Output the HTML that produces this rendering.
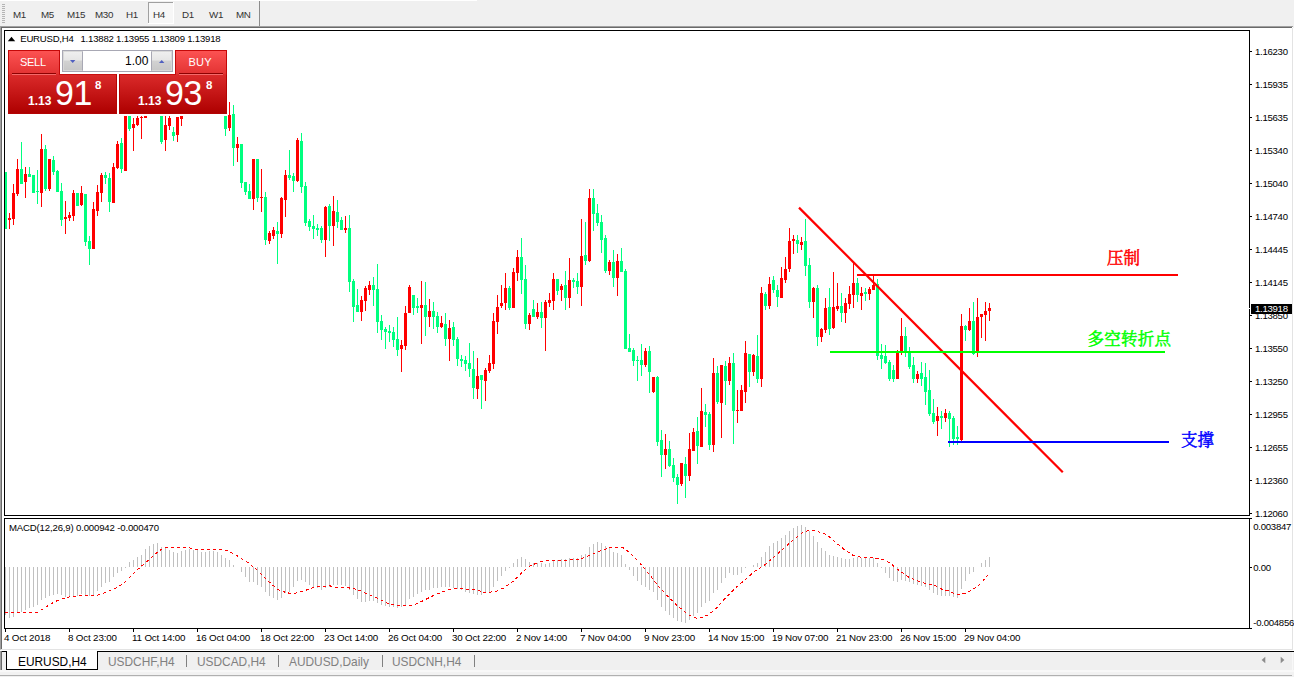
<!DOCTYPE html>
<html><head><meta charset="utf-8"><title>EURUSD,H4</title>
<style>
html,body{margin:0;padding:0}
body{width:1294px;height:677px;overflow:hidden;background:#f0f0f0;position:relative;font-family:"Liberation Sans",sans-serif;}
.abs{position:absolute}
#topwhite{left:0;top:0;width:477px;height:1px;background:#fff}
#tb{left:0;top:1px;width:1294px;height:25px;background:#f0f0f0}
.tf{position:absolute;top:8.8px;font-size:9.8px;line-height:11px;color:#333;white-space:nowrap;letter-spacing:-0.35px}
#win{left:0;top:26px;width:1293px;height:624px;background:#fff;box-sizing:border-box;border-top:1px solid #a0a0a0;border-left:1px solid #a0a0a0;border-bottom:1px solid #e3e3e3}
#winr{left:1292px;top:28px;width:2px;height:622px;background:linear-gradient(90deg,#e3e3e3 50%,#fff 50%)}
#win2{left:1px;top:27px;width:1291px;height:622px;box-sizing:border-box;border-top:1px solid #696969;border-left:1px solid #696969;}
svg text.ax{font-family:"Liberation Sans",sans-serif;font-size:9.6px;letter-spacing:-0.28px;fill:#000}
svg text.tx{font-family:"Liberation Sans",sans-serif;font-size:9.8px;letter-spacing:-0.17px;fill:#000}
.title{left:20.3px;top:32.8px;letter-spacing:-0.25px;font-size:9.6px;line-height:11px;color:#000;white-space:nowrap}
#macdt{left:9px;top:522.4px;font-size:9.6px;letter-spacing:-0.165px;line-height:11px;color:#000;white-space:nowrap}
.cn{position:absolute;font-family:"Liberation Serif","Noto Serif CJK SC",serif;font-weight:400;font-size:16.5px;line-height:18px;white-space:nowrap}
/* trade panel */
.pn{position:absolute;color:#fff}
.big{position:absolute;font-size:35px;line-height:35px;color:#fff;transform-origin:0 0;transform:scaleX(0.97);letter-spacing:-0.5px}
.sm{position:absolute;font-size:12px;line-height:12px;font-weight:bold;color:#fff}
.sup{position:absolute;font-size:11.5px;line-height:12px;color:#fff;font-weight:bold}
.btxt{position:absolute;font-size:11px;line-height:12px;color:#fff;letter-spacing:-0.3px}
/* tabs */
#tabs{left:0;top:650px;width:1294px;height:27px;background:#f0f0f0}
.tab{position:absolute;top:655.5px;font-size:11.9px;line-height:13px;color:#808080;white-space:nowrap}
.sep{position:absolute;top:655px;width:1px;height:12px;background:#808080}
</style></head><body>
<div class="abs" id="topwhite"></div>
<div class="abs" id="tb"></div>
<!-- grip -->
<svg class="abs" style="left:0;top:0" width="300" height="28">
<g fill="#b4b4b4"><rect x="2" y="4" width="3" height="1"/><rect x="2" y="6" width="3" height="1"/><rect x="2" y="8" width="3" height="1"/><rect x="2" y="10" width="3" height="1"/><rect x="2" y="12" width="3" height="1"/><rect x="2" y="14" width="3" height="1"/><rect x="2" y="16" width="3" height="1"/><rect x="2" y="18" width="3" height="1"/><rect x="2" y="20" width="3" height="1"/><rect x="2" y="22" width="3" height="1"/></g>
<rect x="148" y="2" width="25" height="22" fill="#f7f7f7"/><rect x="148" y="2" width="25" height="1" fill="#a0a0a0"/><rect x="148" y="2" width="1" height="22" fill="#a0a0a0"/><rect x="173" y="2" width="1" height="22" fill="#fff"/><rect x="148" y="23" width="26" height="1" fill="#fff"/>
<rect x="259" y="1" width="1" height="25" fill="#8c8c8c"/>
</svg>
<span class="tf" style="left:13px">M1</span><span class="tf" style="left:41px">M5</span><span class="tf" style="left:67px">M15</span><span class="tf" style="left:95px">M30</span><span class="tf" style="left:126px">H1</span><span class="tf" style="left:153px">H4</span><span class="tf" style="left:182px">D1</span><span class="tf" style="left:209px">W1</span><span class="tf" style="left:236px">MN</span>
<div class="abs" id="win"></div><div class="abs" id="winr"></div><div class="abs" id="win2"></div>
<svg class="abs" style="left:0;top:0" width="1294" height="677" shape-rendering="crispEdges">
<!-- frames -->
<g id="candles">
<rect x="5" y="172" width="1" height="57" fill="#00ff7f"/>
<rect x="4" y="172" width="3" height="57" fill="#00ff7f"/>
<rect x="9" y="213" width="1" height="16" fill="#ff0000"/>
<rect x="8" y="218" width="3" height="2" fill="#ff0000"/>
<rect x="13" y="184" width="1" height="41" fill="#ff0000"/>
<rect x="12" y="193" width="3" height="26" fill="#ff0000"/>
<rect x="17" y="159" width="1" height="37" fill="#ff0000"/>
<rect x="16" y="169" width="3" height="25" fill="#ff0000"/>
<rect x="21" y="142" width="1" height="42" fill="#00ff7f"/>
<rect x="20" y="169" width="3" height="15" fill="#00ff7f"/>
<rect x="25" y="167" width="1" height="31" fill="#ff0000"/>
<rect x="24" y="174" width="3" height="8" fill="#ff0000"/>
<rect x="29" y="167" width="1" height="10" fill="#00ff7f"/>
<rect x="28" y="174" width="3" height="3" fill="#00ff7f"/>
<rect x="33" y="175" width="1" height="18" fill="#00ff7f"/>
<rect x="32" y="175" width="3" height="18" fill="#00ff7f"/>
<rect x="37" y="170" width="1" height="34" fill="#00ff7f"/>
<rect x="36" y="191" width="3" height="1" fill="#00ff7f"/>
<rect x="41" y="134" width="1" height="73" fill="#ff0000"/>
<rect x="40" y="149" width="3" height="44" fill="#ff0000"/>
<rect x="45" y="145" width="1" height="46" fill="#00ff7f"/>
<rect x="44" y="149" width="3" height="40" fill="#00ff7f"/>
<rect x="49" y="159" width="1" height="32" fill="#ff0000"/>
<rect x="48" y="159" width="3" height="30" fill="#ff0000"/>
<rect x="53" y="156" width="1" height="19" fill="#00ff7f"/>
<rect x="52" y="160" width="3" height="12" fill="#00ff7f"/>
<rect x="57" y="170" width="1" height="22" fill="#00ff7f"/>
<rect x="56" y="171" width="3" height="21" fill="#00ff7f"/>
<rect x="61" y="183" width="1" height="43" fill="#00ff7f"/>
<rect x="60" y="191" width="3" height="29" fill="#00ff7f"/>
<rect x="65" y="201" width="1" height="33" fill="#ff0000"/>
<rect x="64" y="217" width="3" height="2" fill="#ff0000"/>
<rect x="69" y="212" width="1" height="9" fill="#ff0000"/>
<rect x="68" y="215" width="3" height="3" fill="#ff0000"/>
<rect x="73" y="190" width="1" height="31" fill="#ff0000"/>
<rect x="72" y="193" width="3" height="23" fill="#ff0000"/>
<rect x="77" y="193" width="1" height="13" fill="#00ff7f"/>
<rect x="76" y="193" width="3" height="13" fill="#00ff7f"/>
<rect x="81" y="186" width="1" height="20" fill="#ff0000"/>
<rect x="80" y="193" width="3" height="12" fill="#ff0000"/>
<rect x="85" y="194" width="1" height="52" fill="#00ff7f"/>
<rect x="84" y="194" width="3" height="48" fill="#00ff7f"/>
<rect x="89" y="236" width="1" height="29" fill="#00ff7f"/>
<rect x="88" y="241" width="3" height="8" fill="#00ff7f"/>
<rect x="93" y="202" width="1" height="47" fill="#ff0000"/>
<rect x="92" y="209" width="3" height="40" fill="#ff0000"/>
<rect x="97" y="185" width="1" height="31" fill="#ff0000"/>
<rect x="96" y="192" width="3" height="19" fill="#ff0000"/>
<rect x="101" y="173" width="1" height="29" fill="#ff0000"/>
<rect x="100" y="175" width="3" height="18" fill="#ff0000"/>
<rect x="105" y="172" width="1" height="12" fill="#00ff7f"/>
<rect x="104" y="175" width="3" height="3" fill="#00ff7f"/>
<rect x="109" y="173" width="1" height="39" fill="#00ff7f"/>
<rect x="108" y="178" width="3" height="24" fill="#00ff7f"/>
<rect x="113" y="163" width="1" height="40" fill="#ff0000"/>
<rect x="112" y="167" width="3" height="36" fill="#ff0000"/>
<rect x="117" y="141" width="1" height="28" fill="#ff0000"/>
<rect x="116" y="144" width="3" height="24" fill="#ff0000"/>
<rect x="121" y="138" width="1" height="35" fill="#00ff7f"/>
<rect x="120" y="143" width="3" height="26" fill="#00ff7f"/>
<rect x="125" y="116" width="1" height="55" fill="#ff0000"/>
<rect x="124" y="116" width="3" height="55" fill="#ff0000"/>
<rect x="129" y="116" width="1" height="15" fill="#00ff7f"/>
<rect x="128" y="116" width="3" height="13" fill="#00ff7f"/>
<rect x="133" y="118" width="1" height="33" fill="#ff0000"/>
<rect x="132" y="124" width="3" height="4" fill="#ff0000"/>
<rect x="137" y="116" width="1" height="10" fill="#ff0000"/>
<rect x="136" y="118" width="3" height="7" fill="#ff0000"/>
<rect x="141" y="116" width="1" height="23" fill="#ff0000"/>
<rect x="140" y="117" width="3" height="1" fill="#ff0000"/>
<rect x="145" y="116" width="1" height="2" fill="#ff0000"/>
<rect x="144" y="116" width="3" height="2" fill="#ff0000"/>
<rect x="161" y="116" width="1" height="28" fill="#00ff7f"/>
<rect x="160" y="116" width="3" height="26" fill="#00ff7f"/>
<rect x="165" y="116" width="1" height="35" fill="#ff0000"/>
<rect x="164" y="125" width="3" height="15" fill="#ff0000"/>
<rect x="169" y="116" width="1" height="14" fill="#ff0000"/>
<rect x="168" y="118" width="3" height="8" fill="#ff0000"/>
<rect x="173" y="127" width="1" height="14" fill="#00ff7f"/>
<rect x="172" y="132" width="3" height="4" fill="#00ff7f"/>
<rect x="177" y="117" width="1" height="25" fill="#ff0000"/>
<rect x="176" y="117" width="3" height="18" fill="#ff0000"/>
<rect x="181" y="116" width="1" height="10" fill="#ff0000"/>
<rect x="180" y="116" width="3" height="3" fill="#ff0000"/>
<rect x="225" y="116" width="1" height="20" fill="#00ff7f"/>
<rect x="224" y="116" width="3" height="13" fill="#00ff7f"/>
<rect x="229" y="102" width="1" height="29" fill="#ff0000"/>
<rect x="228" y="115" width="3" height="13" fill="#ff0000"/>
<rect x="233" y="105" width="1" height="61" fill="#00ff7f"/>
<rect x="232" y="114" width="3" height="34" fill="#00ff7f"/>
<rect x="237" y="137" width="1" height="25" fill="#ff0000"/>
<rect x="236" y="144" width="3" height="4" fill="#ff0000"/>
<rect x="241" y="144" width="1" height="44" fill="#00ff7f"/>
<rect x="240" y="144" width="3" height="39" fill="#00ff7f"/>
<rect x="245" y="182" width="1" height="13" fill="#00ff7f"/>
<rect x="244" y="182" width="3" height="10" fill="#00ff7f"/>
<rect x="249" y="184" width="1" height="15" fill="#00ff7f"/>
<rect x="248" y="191" width="3" height="8" fill="#00ff7f"/>
<rect x="253" y="159" width="1" height="51" fill="#ff0000"/>
<rect x="252" y="159" width="3" height="40" fill="#ff0000"/>
<rect x="257" y="159" width="1" height="43" fill="#00ff7f"/>
<rect x="256" y="159" width="3" height="39" fill="#00ff7f"/>
<rect x="261" y="169" width="1" height="43" fill="#ff0000"/>
<rect x="260" y="197" width="3" height="1" fill="#ff0000"/>
<rect x="265" y="192" width="1" height="53" fill="#00ff7f"/>
<rect x="264" y="197" width="3" height="43" fill="#00ff7f"/>
<rect x="269" y="231" width="1" height="13" fill="#ff0000"/>
<rect x="268" y="233" width="3" height="8" fill="#ff0000"/>
<rect x="273" y="227" width="1" height="12" fill="#ff0000"/>
<rect x="272" y="230" width="3" height="6" fill="#ff0000"/>
<rect x="277" y="222" width="1" height="42" fill="#00ff7f"/>
<rect x="276" y="231" width="3" height="3" fill="#00ff7f"/>
<rect x="281" y="197" width="1" height="41" fill="#ff0000"/>
<rect x="280" y="198" width="3" height="36" fill="#ff0000"/>
<rect x="285" y="170" width="1" height="47" fill="#ff0000"/>
<rect x="284" y="175" width="3" height="25" fill="#ff0000"/>
<rect x="289" y="150" width="1" height="30" fill="#00ff7f"/>
<rect x="288" y="175" width="3" height="3" fill="#00ff7f"/>
<rect x="293" y="173" width="1" height="19" fill="#00ff7f"/>
<rect x="292" y="176" width="3" height="5" fill="#00ff7f"/>
<rect x="297" y="138" width="1" height="44" fill="#ff0000"/>
<rect x="296" y="140" width="3" height="41" fill="#ff0000"/>
<rect x="301" y="133" width="1" height="60" fill="#00ff7f"/>
<rect x="300" y="141" width="3" height="46" fill="#00ff7f"/>
<rect x="305" y="182" width="1" height="44" fill="#00ff7f"/>
<rect x="304" y="186" width="3" height="37" fill="#00ff7f"/>
<rect x="309" y="219" width="1" height="12" fill="#00ff7f"/>
<rect x="308" y="221" width="3" height="6" fill="#00ff7f"/>
<rect x="313" y="215" width="1" height="24" fill="#00ff7f"/>
<rect x="312" y="226" width="3" height="3" fill="#00ff7f"/>
<rect x="317" y="224" width="1" height="12" fill="#00ff7f"/>
<rect x="316" y="228" width="3" height="2" fill="#00ff7f"/>
<rect x="321" y="226" width="1" height="17" fill="#00ff7f"/>
<rect x="320" y="228" width="3" height="12" fill="#00ff7f"/>
<rect x="325" y="206" width="1" height="51" fill="#ff0000"/>
<rect x="324" y="207" width="3" height="33" fill="#ff0000"/>
<rect x="329" y="204" width="1" height="37" fill="#00ff7f"/>
<rect x="328" y="206" width="3" height="20" fill="#00ff7f"/>
<rect x="333" y="196" width="1" height="50" fill="#ff0000"/>
<rect x="332" y="211" width="3" height="15" fill="#ff0000"/>
<rect x="337" y="200" width="1" height="28" fill="#00ff7f"/>
<rect x="336" y="212" width="3" height="10" fill="#00ff7f"/>
<rect x="341" y="217" width="1" height="13" fill="#00ff7f"/>
<rect x="340" y="220" width="3" height="10" fill="#00ff7f"/>
<rect x="345" y="216" width="1" height="17" fill="#ff0000"/>
<rect x="344" y="228" width="3" height="2" fill="#ff0000"/>
<rect x="349" y="215" width="1" height="77" fill="#00ff7f"/>
<rect x="348" y="228" width="3" height="54" fill="#00ff7f"/>
<rect x="353" y="279" width="1" height="43" fill="#00ff7f"/>
<rect x="352" y="281" width="3" height="26" fill="#00ff7f"/>
<rect x="357" y="289" width="1" height="23" fill="#00ff7f"/>
<rect x="356" y="305" width="3" height="7" fill="#00ff7f"/>
<rect x="361" y="296" width="1" height="25" fill="#ff0000"/>
<rect x="360" y="300" width="3" height="12" fill="#ff0000"/>
<rect x="365" y="286" width="1" height="25" fill="#ff0000"/>
<rect x="364" y="288" width="3" height="13" fill="#ff0000"/>
<rect x="369" y="281" width="1" height="14" fill="#ff0000"/>
<rect x="368" y="285" width="3" height="5" fill="#ff0000"/>
<rect x="373" y="277" width="1" height="29" fill="#00ff7f"/>
<rect x="372" y="285" width="3" height="5" fill="#00ff7f"/>
<rect x="377" y="264" width="1" height="69" fill="#00ff7f"/>
<rect x="376" y="289" width="3" height="33" fill="#00ff7f"/>
<rect x="381" y="315" width="1" height="25" fill="#00ff7f"/>
<rect x="380" y="321" width="3" height="9" fill="#00ff7f"/>
<rect x="385" y="327" width="1" height="22" fill="#00ff7f"/>
<rect x="384" y="329" width="3" height="3" fill="#00ff7f"/>
<rect x="389" y="325" width="1" height="17" fill="#00ff7f"/>
<rect x="388" y="331" width="3" height="2" fill="#00ff7f"/>
<rect x="393" y="327" width="1" height="20" fill="#00ff7f"/>
<rect x="392" y="332" width="3" height="8" fill="#00ff7f"/>
<rect x="397" y="317" width="1" height="39" fill="#00ff7f"/>
<rect x="396" y="339" width="3" height="11" fill="#00ff7f"/>
<rect x="401" y="340" width="1" height="32" fill="#ff0000"/>
<rect x="400" y="345" width="3" height="4" fill="#ff0000"/>
<rect x="405" y="306" width="1" height="44" fill="#ff0000"/>
<rect x="404" y="313" width="3" height="33" fill="#ff0000"/>
<rect x="409" y="285" width="1" height="28" fill="#ff0000"/>
<rect x="408" y="287" width="3" height="26" fill="#ff0000"/>
<rect x="413" y="295" width="1" height="20" fill="#00ff7f"/>
<rect x="412" y="295" width="3" height="13" fill="#00ff7f"/>
<rect x="417" y="298" width="1" height="15" fill="#00ff7f"/>
<rect x="416" y="306" width="3" height="2" fill="#00ff7f"/>
<rect x="421" y="281" width="1" height="63" fill="#ff0000"/>
<rect x="420" y="305" width="3" height="3" fill="#ff0000"/>
<rect x="425" y="282" width="1" height="54" fill="#00ff7f"/>
<rect x="424" y="305" width="3" height="12" fill="#00ff7f"/>
<rect x="429" y="299" width="1" height="28" fill="#ff0000"/>
<rect x="428" y="311" width="3" height="6" fill="#ff0000"/>
<rect x="433" y="302" width="1" height="27" fill="#00ff7f"/>
<rect x="432" y="311" width="3" height="6" fill="#00ff7f"/>
<rect x="437" y="312" width="1" height="21" fill="#00ff7f"/>
<rect x="436" y="316" width="3" height="11" fill="#00ff7f"/>
<rect x="441" y="316" width="1" height="12" fill="#ff0000"/>
<rect x="440" y="323" width="3" height="4" fill="#ff0000"/>
<rect x="445" y="313" width="1" height="33" fill="#00ff7f"/>
<rect x="444" y="324" width="3" height="15" fill="#00ff7f"/>
<rect x="449" y="320" width="1" height="41" fill="#ff0000"/>
<rect x="448" y="328" width="3" height="11" fill="#ff0000"/>
<rect x="453" y="322" width="1" height="24" fill="#00ff7f"/>
<rect x="452" y="327" width="3" height="13" fill="#00ff7f"/>
<rect x="457" y="337" width="1" height="29" fill="#00ff7f"/>
<rect x="456" y="339" width="3" height="20" fill="#00ff7f"/>
<rect x="461" y="355" width="1" height="12" fill="#00ff7f"/>
<rect x="460" y="359" width="3" height="2" fill="#00ff7f"/>
<rect x="465" y="356" width="1" height="15" fill="#00ff7f"/>
<rect x="464" y="360" width="3" height="4" fill="#00ff7f"/>
<rect x="469" y="343" width="1" height="34" fill="#00ff7f"/>
<rect x="468" y="363" width="3" height="6" fill="#00ff7f"/>
<rect x="473" y="351" width="1" height="48" fill="#00ff7f"/>
<rect x="472" y="369" width="3" height="19" fill="#00ff7f"/>
<rect x="477" y="358" width="1" height="41" fill="#ff0000"/>
<rect x="476" y="376" width="3" height="13" fill="#ff0000"/>
<rect x="481" y="375" width="1" height="34" fill="#00ff7f"/>
<rect x="480" y="375" width="3" height="5" fill="#00ff7f"/>
<rect x="485" y="368" width="1" height="33" fill="#ff0000"/>
<rect x="484" y="370" width="3" height="11" fill="#ff0000"/>
<rect x="489" y="355" width="1" height="18" fill="#ff0000"/>
<rect x="488" y="363" width="3" height="8" fill="#ff0000"/>
<rect x="493" y="313" width="1" height="56" fill="#ff0000"/>
<rect x="492" y="321" width="3" height="43" fill="#ff0000"/>
<rect x="497" y="295" width="1" height="39" fill="#ff0000"/>
<rect x="496" y="307" width="3" height="15" fill="#ff0000"/>
<rect x="501" y="285" width="1" height="23" fill="#ff0000"/>
<rect x="500" y="303" width="3" height="3" fill="#ff0000"/>
<rect x="505" y="273" width="1" height="37" fill="#ff0000"/>
<rect x="504" y="288" width="3" height="15" fill="#ff0000"/>
<rect x="509" y="286" width="1" height="24" fill="#00ff7f"/>
<rect x="508" y="288" width="3" height="20" fill="#00ff7f"/>
<rect x="513" y="268" width="1" height="40" fill="#ff0000"/>
<rect x="512" y="272" width="3" height="36" fill="#ff0000"/>
<rect x="517" y="250" width="1" height="31" fill="#ff0000"/>
<rect x="516" y="257" width="3" height="16" fill="#ff0000"/>
<rect x="521" y="238" width="1" height="56" fill="#00ff7f"/>
<rect x="520" y="257" width="3" height="23" fill="#00ff7f"/>
<rect x="525" y="265" width="1" height="64" fill="#00ff7f"/>
<rect x="524" y="279" width="3" height="45" fill="#00ff7f"/>
<rect x="529" y="313" width="1" height="17" fill="#ff0000"/>
<rect x="528" y="315" width="3" height="9" fill="#ff0000"/>
<rect x="533" y="300" width="1" height="17" fill="#00ff7f"/>
<rect x="532" y="309" width="3" height="8" fill="#00ff7f"/>
<rect x="537" y="303" width="1" height="16" fill="#ff0000"/>
<rect x="536" y="312" width="3" height="5" fill="#ff0000"/>
<rect x="541" y="302" width="1" height="26" fill="#00ff7f"/>
<rect x="540" y="312" width="3" height="6" fill="#00ff7f"/>
<rect x="545" y="300" width="1" height="51" fill="#ff0000"/>
<rect x="544" y="302" width="3" height="16" fill="#ff0000"/>
<rect x="549" y="293" width="1" height="14" fill="#ff0000"/>
<rect x="548" y="300" width="3" height="3" fill="#ff0000"/>
<rect x="553" y="273" width="1" height="37" fill="#ff0000"/>
<rect x="552" y="279" width="3" height="22" fill="#ff0000"/>
<rect x="557" y="279" width="1" height="16" fill="#00ff7f"/>
<rect x="556" y="279" width="3" height="12" fill="#00ff7f"/>
<rect x="561" y="284" width="1" height="17" fill="#ff0000"/>
<rect x="560" y="286" width="3" height="4" fill="#ff0000"/>
<rect x="565" y="271" width="1" height="39" fill="#00ff7f"/>
<rect x="564" y="285" width="3" height="13" fill="#00ff7f"/>
<rect x="569" y="258" width="1" height="50" fill="#ff0000"/>
<rect x="568" y="280" width="3" height="18" fill="#ff0000"/>
<rect x="573" y="278" width="1" height="10" fill="#00ff7f"/>
<rect x="572" y="280" width="3" height="2" fill="#00ff7f"/>
<rect x="577" y="273" width="1" height="21" fill="#00ff7f"/>
<rect x="576" y="281" width="3" height="6" fill="#00ff7f"/>
<rect x="581" y="219" width="1" height="87" fill="#ff0000"/>
<rect x="580" y="256" width="3" height="31" fill="#ff0000"/>
<rect x="585" y="222" width="1" height="43" fill="#00ff7f"/>
<rect x="584" y="255" width="3" height="6" fill="#00ff7f"/>
<rect x="589" y="189" width="1" height="73" fill="#ff0000"/>
<rect x="588" y="198" width="3" height="63" fill="#ff0000"/>
<rect x="593" y="189" width="1" height="42" fill="#00ff7f"/>
<rect x="592" y="198" width="3" height="16" fill="#00ff7f"/>
<rect x="597" y="204" width="1" height="22" fill="#00ff7f"/>
<rect x="596" y="213" width="3" height="10" fill="#00ff7f"/>
<rect x="601" y="215" width="1" height="38" fill="#00ff7f"/>
<rect x="600" y="222" width="3" height="18" fill="#00ff7f"/>
<rect x="605" y="235" width="1" height="38" fill="#00ff7f"/>
<rect x="604" y="238" width="3" height="33" fill="#00ff7f"/>
<rect x="609" y="260" width="1" height="15" fill="#ff0000"/>
<rect x="608" y="262" width="3" height="9" fill="#ff0000"/>
<rect x="613" y="250" width="1" height="37" fill="#00ff7f"/>
<rect x="612" y="262" width="3" height="16" fill="#00ff7f"/>
<rect x="617" y="254" width="1" height="42" fill="#ff0000"/>
<rect x="616" y="261" width="3" height="17" fill="#ff0000"/>
<rect x="621" y="248" width="1" height="24" fill="#00ff7f"/>
<rect x="620" y="261" width="3" height="11" fill="#00ff7f"/>
<rect x="625" y="269" width="1" height="80" fill="#00ff7f"/>
<rect x="624" y="271" width="3" height="78" fill="#00ff7f"/>
<rect x="629" y="334" width="1" height="18" fill="#00ff7f"/>
<rect x="628" y="348" width="3" height="4" fill="#00ff7f"/>
<rect x="633" y="348" width="1" height="18" fill="#00ff7f"/>
<rect x="632" y="350" width="3" height="11" fill="#00ff7f"/>
<rect x="637" y="356" width="1" height="25" fill="#00ff7f"/>
<rect x="636" y="360" width="3" height="1" fill="#00ff7f"/>
<rect x="641" y="344" width="1" height="32" fill="#00ff7f"/>
<rect x="640" y="360" width="3" height="5" fill="#00ff7f"/>
<rect x="645" y="348" width="1" height="19" fill="#ff0000"/>
<rect x="644" y="351" width="3" height="14" fill="#ff0000"/>
<rect x="649" y="346" width="1" height="47" fill="#00ff7f"/>
<rect x="648" y="351" width="3" height="21" fill="#00ff7f"/>
<rect x="653" y="377" width="1" height="16" fill="#ff0000"/>
<rect x="652" y="377" width="3" height="15" fill="#ff0000"/>
<rect x="657" y="376" width="1" height="70" fill="#00ff7f"/>
<rect x="656" y="377" width="3" height="65" fill="#00ff7f"/>
<rect x="661" y="430" width="1" height="47" fill="#00ff7f"/>
<rect x="660" y="440" width="3" height="15" fill="#00ff7f"/>
<rect x="665" y="434" width="1" height="35" fill="#ff0000"/>
<rect x="664" y="449" width="3" height="6" fill="#ff0000"/>
<rect x="669" y="441" width="1" height="26" fill="#00ff7f"/>
<rect x="668" y="449" width="3" height="17" fill="#00ff7f"/>
<rect x="673" y="458" width="1" height="24" fill="#00ff7f"/>
<rect x="672" y="465" width="3" height="13" fill="#00ff7f"/>
<rect x="677" y="474" width="1" height="30" fill="#00ff7f"/>
<rect x="676" y="477" width="3" height="8" fill="#00ff7f"/>
<rect x="681" y="463" width="1" height="23" fill="#ff0000"/>
<rect x="680" y="463" width="3" height="21" fill="#ff0000"/>
<rect x="685" y="457" width="1" height="41" fill="#00ff7f"/>
<rect x="684" y="464" width="3" height="12" fill="#00ff7f"/>
<rect x="689" y="433" width="1" height="48" fill="#ff0000"/>
<rect x="688" y="449" width="3" height="27" fill="#ff0000"/>
<rect x="693" y="428" width="1" height="23" fill="#ff0000"/>
<rect x="692" y="432" width="3" height="19" fill="#ff0000"/>
<rect x="697" y="417" width="1" height="47" fill="#00ff7f"/>
<rect x="696" y="431" width="3" height="15" fill="#00ff7f"/>
<rect x="701" y="388" width="1" height="59" fill="#ff0000"/>
<rect x="700" y="411" width="3" height="36" fill="#ff0000"/>
<rect x="705" y="404" width="1" height="23" fill="#00ff7f"/>
<rect x="704" y="412" width="3" height="3" fill="#00ff7f"/>
<rect x="709" y="412" width="1" height="38" fill="#00ff7f"/>
<rect x="708" y="414" width="3" height="31" fill="#00ff7f"/>
<rect x="713" y="358" width="1" height="94" fill="#ff0000"/>
<rect x="712" y="373" width="3" height="72" fill="#ff0000"/>
<rect x="717" y="366" width="1" height="38" fill="#00ff7f"/>
<rect x="716" y="373" width="3" height="29" fill="#00ff7f"/>
<rect x="721" y="365" width="1" height="73" fill="#ff0000"/>
<rect x="720" y="365" width="3" height="38" fill="#ff0000"/>
<rect x="725" y="361" width="1" height="44" fill="#00ff7f"/>
<rect x="724" y="366" width="3" height="15" fill="#00ff7f"/>
<rect x="729" y="357" width="1" height="28" fill="#ff0000"/>
<rect x="728" y="363" width="3" height="18" fill="#ff0000"/>
<rect x="733" y="353" width="1" height="91" fill="#00ff7f"/>
<rect x="732" y="363" width="3" height="48" fill="#00ff7f"/>
<rect x="737" y="390" width="1" height="33" fill="#ff0000"/>
<rect x="736" y="410" width="3" height="1" fill="#ff0000"/>
<rect x="741" y="385" width="1" height="26" fill="#ff0000"/>
<rect x="740" y="390" width="3" height="21" fill="#ff0000"/>
<rect x="745" y="341" width="1" height="62" fill="#ff0000"/>
<rect x="744" y="353" width="3" height="39" fill="#ff0000"/>
<rect x="749" y="354" width="1" height="33" fill="#00ff7f"/>
<rect x="748" y="354" width="3" height="18" fill="#00ff7f"/>
<rect x="753" y="354" width="1" height="22" fill="#ff0000"/>
<rect x="752" y="355" width="3" height="17" fill="#ff0000"/>
<rect x="757" y="335" width="1" height="48" fill="#00ff7f"/>
<rect x="756" y="356" width="3" height="23" fill="#00ff7f"/>
<rect x="761" y="287" width="1" height="100" fill="#ff0000"/>
<rect x="760" y="293" width="3" height="86" fill="#ff0000"/>
<rect x="765" y="292" width="1" height="18" fill="#00ff7f"/>
<rect x="764" y="294" width="3" height="12" fill="#00ff7f"/>
<rect x="769" y="277" width="1" height="32" fill="#ff0000"/>
<rect x="768" y="284" width="3" height="22" fill="#ff0000"/>
<rect x="773" y="276" width="1" height="17" fill="#00ff7f"/>
<rect x="772" y="280" width="3" height="10" fill="#00ff7f"/>
<rect x="777" y="285" width="1" height="22" fill="#00ff7f"/>
<rect x="776" y="290" width="3" height="7" fill="#00ff7f"/>
<rect x="781" y="267" width="1" height="31" fill="#ff0000"/>
<rect x="780" y="278" width="3" height="20" fill="#ff0000"/>
<rect x="785" y="257" width="1" height="26" fill="#ff0000"/>
<rect x="784" y="269" width="3" height="11" fill="#ff0000"/>
<rect x="789" y="228" width="1" height="44" fill="#ff0000"/>
<rect x="788" y="241" width="3" height="28" fill="#ff0000"/>
<rect x="793" y="235" width="1" height="19" fill="#ff0000"/>
<rect x="792" y="239" width="3" height="2" fill="#ff0000"/>
<rect x="797" y="235" width="1" height="18" fill="#00ff7f"/>
<rect x="796" y="240" width="3" height="4" fill="#00ff7f"/>
<rect x="801" y="237" width="1" height="13" fill="#ff0000"/>
<rect x="800" y="242" width="3" height="3" fill="#ff0000"/>
<rect x="805" y="219" width="1" height="57" fill="#00ff7f"/>
<rect x="804" y="241" width="3" height="25" fill="#00ff7f"/>
<rect x="809" y="258" width="1" height="50" fill="#00ff7f"/>
<rect x="808" y="265" width="3" height="37" fill="#00ff7f"/>
<rect x="813" y="287" width="1" height="31" fill="#ff0000"/>
<rect x="812" y="288" width="3" height="14" fill="#ff0000"/>
<rect x="817" y="285" width="1" height="61" fill="#00ff7f"/>
<rect x="816" y="288" width="3" height="49" fill="#00ff7f"/>
<rect x="821" y="328" width="1" height="14" fill="#ff0000"/>
<rect x="820" y="329" width="3" height="8" fill="#ff0000"/>
<rect x="825" y="298" width="1" height="35" fill="#ff0000"/>
<rect x="824" y="308" width="3" height="22" fill="#ff0000"/>
<rect x="829" y="288" width="1" height="47" fill="#00ff7f"/>
<rect x="828" y="307" width="3" height="22" fill="#00ff7f"/>
<rect x="833" y="272" width="1" height="57" fill="#ff0000"/>
<rect x="832" y="307" width="3" height="21" fill="#ff0000"/>
<rect x="837" y="283" width="1" height="28" fill="#ff0000"/>
<rect x="836" y="306" width="3" height="3" fill="#ff0000"/>
<rect x="841" y="293" width="1" height="29" fill="#00ff7f"/>
<rect x="840" y="306" width="3" height="7" fill="#00ff7f"/>
<rect x="845" y="298" width="1" height="25" fill="#ff0000"/>
<rect x="844" y="303" width="3" height="10" fill="#ff0000"/>
<rect x="849" y="286" width="1" height="23" fill="#ff0000"/>
<rect x="848" y="294" width="3" height="10" fill="#ff0000"/>
<rect x="853" y="263" width="1" height="45" fill="#ff0000"/>
<rect x="852" y="283" width="3" height="12" fill="#ff0000"/>
<rect x="857" y="278" width="1" height="24" fill="#00ff7f"/>
<rect x="856" y="283" width="3" height="12" fill="#00ff7f"/>
<rect x="861" y="287" width="1" height="23" fill="#ff0000"/>
<rect x="860" y="293" width="3" height="3" fill="#ff0000"/>
<rect x="865" y="288" width="1" height="13" fill="#00ff7f"/>
<rect x="864" y="292" width="3" height="2" fill="#00ff7f"/>
<rect x="869" y="287" width="1" height="13" fill="#ff0000"/>
<rect x="868" y="289" width="3" height="5" fill="#ff0000"/>
<rect x="873" y="276" width="1" height="14" fill="#ff0000"/>
<rect x="872" y="285" width="3" height="5" fill="#ff0000"/>
<rect x="877" y="279" width="1" height="81" fill="#00ff7f"/>
<rect x="876" y="284" width="3" height="72" fill="#00ff7f"/>
<rect x="881" y="344" width="1" height="25" fill="#00ff7f"/>
<rect x="880" y="355" width="3" height="4" fill="#00ff7f"/>
<rect x="885" y="345" width="1" height="19" fill="#00ff7f"/>
<rect x="884" y="356" width="3" height="7" fill="#00ff7f"/>
<rect x="889" y="360" width="1" height="21" fill="#00ff7f"/>
<rect x="888" y="362" width="3" height="17" fill="#00ff7f"/>
<rect x="893" y="365" width="1" height="17" fill="#00ff7f"/>
<rect x="892" y="370" width="3" height="9" fill="#00ff7f"/>
<rect x="897" y="350" width="1" height="29" fill="#ff0000"/>
<rect x="896" y="352" width="3" height="27" fill="#ff0000"/>
<rect x="901" y="318" width="1" height="37" fill="#ff0000"/>
<rect x="900" y="336" width="3" height="16" fill="#ff0000"/>
<rect x="905" y="327" width="1" height="30" fill="#00ff7f"/>
<rect x="904" y="336" width="3" height="17" fill="#00ff7f"/>
<rect x="909" y="347" width="1" height="22" fill="#00ff7f"/>
<rect x="908" y="353" width="3" height="14" fill="#00ff7f"/>
<rect x="913" y="357" width="1" height="26" fill="#00ff7f"/>
<rect x="912" y="365" width="3" height="14" fill="#00ff7f"/>
<rect x="917" y="371" width="1" height="12" fill="#ff0000"/>
<rect x="916" y="374" width="3" height="5" fill="#ff0000"/>
<rect x="921" y="362" width="1" height="24" fill="#00ff7f"/>
<rect x="920" y="373" width="3" height="6" fill="#00ff7f"/>
<rect x="925" y="363" width="1" height="42" fill="#00ff7f"/>
<rect x="924" y="377" width="3" height="15" fill="#00ff7f"/>
<rect x="929" y="370" width="1" height="46" fill="#00ff7f"/>
<rect x="928" y="390" width="3" height="24" fill="#00ff7f"/>
<rect x="933" y="399" width="1" height="25" fill="#00ff7f"/>
<rect x="932" y="413" width="3" height="9" fill="#00ff7f"/>
<rect x="937" y="407" width="1" height="29" fill="#ff0000"/>
<rect x="936" y="416" width="3" height="5" fill="#ff0000"/>
<rect x="941" y="411" width="1" height="18" fill="#00ff7f"/>
<rect x="940" y="416" width="3" height="2" fill="#00ff7f"/>
<rect x="945" y="409" width="1" height="13" fill="#ff0000"/>
<rect x="944" y="413" width="3" height="5" fill="#ff0000"/>
<rect x="949" y="411" width="1" height="36" fill="#00ff7f"/>
<rect x="948" y="413" width="3" height="6" fill="#00ff7f"/>
<rect x="953" y="416" width="1" height="29" fill="#00ff7f"/>
<rect x="952" y="418" width="3" height="21" fill="#00ff7f"/>
<rect x="957" y="426" width="1" height="19" fill="#00ff7f"/>
<rect x="956" y="437" width="3" height="2" fill="#00ff7f"/>
<rect x="961" y="314" width="1" height="127" fill="#ff0000"/>
<rect x="960" y="326" width="3" height="114" fill="#ff0000"/>
<rect x="965" y="325" width="1" height="16" fill="#00ff7f"/>
<rect x="964" y="326" width="3" height="4" fill="#00ff7f"/>
<rect x="969" y="308" width="1" height="23" fill="#ff0000"/>
<rect x="968" y="321" width="3" height="9" fill="#ff0000"/>
<rect x="973" y="302" width="1" height="53" fill="#00ff7f"/>
<rect x="972" y="321" width="3" height="33" fill="#00ff7f"/>
<rect x="977" y="298" width="1" height="59" fill="#ff0000"/>
<rect x="976" y="317" width="3" height="36" fill="#ff0000"/>
<rect x="981" y="314" width="1" height="24" fill="#ff0000"/>
<rect x="980" y="314" width="3" height="3" fill="#ff0000"/>
<rect x="985" y="302" width="1" height="39" fill="#ff0000"/>
<rect x="984" y="311" width="3" height="4" fill="#ff0000"/>
<rect x="989" y="303" width="1" height="18" fill="#ff0000"/>
<rect x="988" y="308" width="3" height="3" fill="#ff0000"/>
</g>
<g id="macd">
<rect x="5" y="567" width="1" height="48" fill="#c0c0c0"/>
<rect x="9" y="567" width="1" height="51" fill="#c0c0c0"/>
<rect x="13" y="567" width="1" height="50" fill="#c0c0c0"/>
<rect x="17" y="567" width="1" height="46" fill="#c0c0c0"/>
<rect x="21" y="567" width="1" height="45" fill="#c0c0c0"/>
<rect x="25" y="567" width="1" height="43" fill="#c0c0c0"/>
<rect x="29" y="567" width="1" height="41" fill="#c0c0c0"/>
<rect x="33" y="567" width="1" height="40" fill="#c0c0c0"/>
<rect x="37" y="567" width="1" height="38" fill="#c0c0c0"/>
<rect x="41" y="567" width="1" height="33" fill="#c0c0c0"/>
<rect x="45" y="567" width="1" height="31" fill="#c0c0c0"/>
<rect x="49" y="567" width="1" height="29" fill="#c0c0c0"/>
<rect x="53" y="567" width="1" height="28" fill="#c0c0c0"/>
<rect x="57" y="567" width="1" height="27" fill="#c0c0c0"/>
<rect x="61" y="567" width="1" height="28" fill="#c0c0c0"/>
<rect x="65" y="567" width="1" height="30" fill="#c0c0c0"/>
<rect x="69" y="567" width="1" height="30" fill="#c0c0c0"/>
<rect x="73" y="567" width="1" height="30" fill="#c0c0c0"/>
<rect x="77" y="567" width="1" height="29" fill="#c0c0c0"/>
<rect x="81" y="567" width="1" height="27" fill="#c0c0c0"/>
<rect x="85" y="567" width="1" height="28" fill="#c0c0c0"/>
<rect x="89" y="567" width="1" height="29" fill="#c0c0c0"/>
<rect x="93" y="567" width="1" height="28" fill="#c0c0c0"/>
<rect x="97" y="567" width="1" height="24" fill="#c0c0c0"/>
<rect x="101" y="567" width="1" height="20" fill="#c0c0c0"/>
<rect x="105" y="567" width="1" height="16" fill="#c0c0c0"/>
<rect x="109" y="567" width="1" height="15" fill="#c0c0c0"/>
<rect x="113" y="567" width="1" height="10" fill="#c0c0c0"/>
<rect x="117" y="567" width="1" height="6" fill="#c0c0c0"/>
<rect x="121" y="567" width="1" height="4" fill="#c0c0c0"/>
<rect x="125" y="567" width="1" height="1" fill="#c0c0c0"/>
<rect x="129" y="562" width="1" height="5" fill="#c0c0c0"/>
<rect x="133" y="560" width="1" height="7" fill="#c0c0c0"/>
<rect x="137" y="557" width="1" height="10" fill="#c0c0c0"/>
<rect x="141" y="555" width="1" height="12" fill="#c0c0c0"/>
<rect x="145" y="549" width="1" height="18" fill="#c0c0c0"/>
<rect x="149" y="546" width="1" height="21" fill="#c0c0c0"/>
<rect x="153" y="544" width="1" height="23" fill="#c0c0c0"/>
<rect x="157" y="543" width="1" height="24" fill="#c0c0c0"/>
<rect x="161" y="547" width="1" height="20" fill="#c0c0c0"/>
<rect x="165" y="548" width="1" height="19" fill="#c0c0c0"/>
<rect x="169" y="550" width="1" height="17" fill="#c0c0c0"/>
<rect x="173" y="552" width="1" height="15" fill="#c0c0c0"/>
<rect x="177" y="553" width="1" height="14" fill="#c0c0c0"/>
<rect x="181" y="551" width="1" height="16" fill="#c0c0c0"/>
<rect x="185" y="550" width="1" height="17" fill="#c0c0c0"/>
<rect x="189" y="549" width="1" height="18" fill="#c0c0c0"/>
<rect x="193" y="550" width="1" height="17" fill="#c0c0c0"/>
<rect x="197" y="550" width="1" height="17" fill="#c0c0c0"/>
<rect x="201" y="552" width="1" height="15" fill="#c0c0c0"/>
<rect x="205" y="552" width="1" height="15" fill="#c0c0c0"/>
<rect x="209" y="551" width="1" height="16" fill="#c0c0c0"/>
<rect x="213" y="551" width="1" height="16" fill="#c0c0c0"/>
<rect x="217" y="552" width="1" height="15" fill="#c0c0c0"/>
<rect x="221" y="555" width="1" height="12" fill="#c0c0c0"/>
<rect x="225" y="558" width="1" height="9" fill="#c0c0c0"/>
<rect x="229" y="560" width="1" height="7" fill="#c0c0c0"/>
<rect x="233" y="565" width="1" height="2" fill="#c0c0c0"/>
<rect x="241" y="567" width="1" height="5" fill="#c0c0c0"/>
<rect x="245" y="567" width="1" height="10" fill="#c0c0c0"/>
<rect x="249" y="567" width="1" height="15" fill="#c0c0c0"/>
<rect x="253" y="567" width="1" height="15" fill="#c0c0c0"/>
<rect x="257" y="567" width="1" height="18" fill="#c0c0c0"/>
<rect x="261" y="567" width="1" height="20" fill="#c0c0c0"/>
<rect x="265" y="567" width="1" height="25" fill="#c0c0c0"/>
<rect x="269" y="567" width="1" height="29" fill="#c0c0c0"/>
<rect x="273" y="567" width="1" height="31" fill="#c0c0c0"/>
<rect x="277" y="567" width="1" height="33" fill="#c0c0c0"/>
<rect x="281" y="567" width="1" height="31" fill="#c0c0c0"/>
<rect x="285" y="567" width="1" height="26" fill="#c0c0c0"/>
<rect x="289" y="567" width="1" height="25" fill="#c0c0c0"/>
<rect x="293" y="567" width="1" height="20" fill="#c0c0c0"/>
<rect x="297" y="567" width="1" height="14" fill="#c0c0c0"/>
<rect x="301" y="567" width="1" height="13" fill="#c0c0c0"/>
<rect x="305" y="567" width="1" height="15" fill="#c0c0c0"/>
<rect x="309" y="567" width="1" height="18" fill="#c0c0c0"/>
<rect x="313" y="567" width="1" height="20" fill="#c0c0c0"/>
<rect x="317" y="567" width="1" height="21" fill="#c0c0c0"/>
<rect x="321" y="567" width="1" height="23" fill="#c0c0c0"/>
<rect x="325" y="567" width="1" height="21" fill="#c0c0c0"/>
<rect x="329" y="567" width="1" height="20" fill="#c0c0c0"/>
<rect x="333" y="567" width="1" height="18" fill="#c0c0c0"/>
<rect x="337" y="567" width="1" height="18" fill="#c0c0c0"/>
<rect x="341" y="567" width="1" height="18" fill="#c0c0c0"/>
<rect x="345" y="567" width="1" height="19" fill="#c0c0c0"/>
<rect x="349" y="567" width="1" height="23" fill="#c0c0c0"/>
<rect x="353" y="567" width="1" height="28" fill="#c0c0c0"/>
<rect x="357" y="567" width="1" height="32" fill="#c0c0c0"/>
<rect x="361" y="567" width="1" height="35" fill="#c0c0c0"/>
<rect x="365" y="567" width="1" height="35" fill="#c0c0c0"/>
<rect x="369" y="567" width="1" height="34" fill="#c0c0c0"/>
<rect x="373" y="567" width="1" height="34" fill="#c0c0c0"/>
<rect x="377" y="567" width="1" height="36" fill="#c0c0c0"/>
<rect x="381" y="567" width="1" height="38" fill="#c0c0c0"/>
<rect x="385" y="567" width="1" height="39" fill="#c0c0c0"/>
<rect x="389" y="567" width="1" height="40" fill="#c0c0c0"/>
<rect x="393" y="567" width="1" height="40" fill="#c0c0c0"/>
<rect x="397" y="567" width="1" height="41" fill="#c0c0c0"/>
<rect x="401" y="567" width="1" height="40" fill="#c0c0c0"/>
<rect x="405" y="567" width="1" height="38" fill="#c0c0c0"/>
<rect x="409" y="567" width="1" height="32" fill="#c0c0c0"/>
<rect x="413" y="567" width="1" height="30" fill="#c0c0c0"/>
<rect x="417" y="567" width="1" height="27" fill="#c0c0c0"/>
<rect x="421" y="567" width="1" height="25" fill="#c0c0c0"/>
<rect x="425" y="567" width="1" height="23" fill="#c0c0c0"/>
<rect x="429" y="567" width="1" height="23" fill="#c0c0c0"/>
<rect x="433" y="567" width="1" height="21" fill="#c0c0c0"/>
<rect x="437" y="567" width="1" height="21" fill="#c0c0c0"/>
<rect x="441" y="567" width="1" height="20" fill="#c0c0c0"/>
<rect x="445" y="567" width="1" height="20" fill="#c0c0c0"/>
<rect x="449" y="567" width="1" height="20" fill="#c0c0c0"/>
<rect x="453" y="567" width="1" height="21" fill="#c0c0c0"/>
<rect x="457" y="567" width="1" height="22" fill="#c0c0c0"/>
<rect x="461" y="567" width="1" height="23" fill="#c0c0c0"/>
<rect x="465" y="567" width="1" height="25" fill="#c0c0c0"/>
<rect x="469" y="567" width="1" height="26" fill="#c0c0c0"/>
<rect x="473" y="567" width="1" height="27" fill="#c0c0c0"/>
<rect x="477" y="567" width="1" height="28" fill="#c0c0c0"/>
<rect x="481" y="567" width="1" height="28" fill="#c0c0c0"/>
<rect x="485" y="567" width="1" height="26" fill="#c0c0c0"/>
<rect x="489" y="567" width="1" height="25" fill="#c0c0c0"/>
<rect x="493" y="567" width="1" height="20" fill="#c0c0c0"/>
<rect x="497" y="567" width="1" height="14" fill="#c0c0c0"/>
<rect x="501" y="567" width="1" height="9" fill="#c0c0c0"/>
<rect x="505" y="567" width="1" height="4" fill="#c0c0c0"/>
<rect x="509" y="567" width="1" height="1" fill="#c0c0c0"/>
<rect x="513" y="563" width="1" height="4" fill="#c0c0c0"/>
<rect x="517" y="559" width="1" height="8" fill="#c0c0c0"/>
<rect x="521" y="557" width="1" height="10" fill="#c0c0c0"/>
<rect x="525" y="559" width="1" height="8" fill="#c0c0c0"/>
<rect x="529" y="562" width="1" height="5" fill="#c0c0c0"/>
<rect x="533" y="563" width="1" height="4" fill="#c0c0c0"/>
<rect x="537" y="563" width="1" height="4" fill="#c0c0c0"/>
<rect x="541" y="563" width="1" height="4" fill="#c0c0c0"/>
<rect x="545" y="564" width="1" height="3" fill="#c0c0c0"/>
<rect x="549" y="563" width="1" height="4" fill="#c0c0c0"/>
<rect x="553" y="560" width="1" height="7" fill="#c0c0c0"/>
<rect x="557" y="560" width="1" height="7" fill="#c0c0c0"/>
<rect x="561" y="559" width="1" height="8" fill="#c0c0c0"/>
<rect x="565" y="559" width="1" height="8" fill="#c0c0c0"/>
<rect x="569" y="558" width="1" height="9" fill="#c0c0c0"/>
<rect x="573" y="558" width="1" height="9" fill="#c0c0c0"/>
<rect x="577" y="558" width="1" height="9" fill="#c0c0c0"/>
<rect x="581" y="555" width="1" height="12" fill="#c0c0c0"/>
<rect x="585" y="554" width="1" height="13" fill="#c0c0c0"/>
<rect x="589" y="547" width="1" height="20" fill="#c0c0c0"/>
<rect x="593" y="544" width="1" height="23" fill="#c0c0c0"/>
<rect x="597" y="542" width="1" height="25" fill="#c0c0c0"/>
<rect x="601" y="543" width="1" height="24" fill="#c0c0c0"/>
<rect x="605" y="546" width="1" height="21" fill="#c0c0c0"/>
<rect x="609" y="548" width="1" height="19" fill="#c0c0c0"/>
<rect x="613" y="552" width="1" height="15" fill="#c0c0c0"/>
<rect x="617" y="553" width="1" height="14" fill="#c0c0c0"/>
<rect x="621" y="555" width="1" height="12" fill="#c0c0c0"/>
<rect x="625" y="564" width="1" height="3" fill="#c0c0c0"/>
<rect x="629" y="567" width="1" height="3" fill="#c0c0c0"/>
<rect x="633" y="567" width="1" height="9" fill="#c0c0c0"/>
<rect x="637" y="567" width="1" height="14" fill="#c0c0c0"/>
<rect x="641" y="567" width="1" height="18" fill="#c0c0c0"/>
<rect x="645" y="567" width="1" height="20" fill="#c0c0c0"/>
<rect x="649" y="567" width="1" height="23" fill="#c0c0c0"/>
<rect x="653" y="567" width="1" height="25" fill="#c0c0c0"/>
<rect x="657" y="567" width="1" height="33" fill="#c0c0c0"/>
<rect x="661" y="567" width="1" height="40" fill="#c0c0c0"/>
<rect x="665" y="567" width="1" height="44" fill="#c0c0c0"/>
<rect x="669" y="567" width="1" height="48" fill="#c0c0c0"/>
<rect x="673" y="567" width="1" height="51" fill="#c0c0c0"/>
<rect x="677" y="567" width="1" height="54" fill="#c0c0c0"/>
<rect x="681" y="567" width="1" height="55" fill="#c0c0c0"/>
<rect x="685" y="567" width="1" height="56" fill="#c0c0c0"/>
<rect x="689" y="567" width="1" height="53" fill="#c0c0c0"/>
<rect x="693" y="567" width="1" height="49" fill="#c0c0c0"/>
<rect x="697" y="567" width="1" height="46" fill="#c0c0c0"/>
<rect x="701" y="567" width="1" height="40" fill="#c0c0c0"/>
<rect x="705" y="567" width="1" height="36" fill="#c0c0c0"/>
<rect x="709" y="567" width="1" height="34" fill="#c0c0c0"/>
<rect x="713" y="567" width="1" height="26" fill="#c0c0c0"/>
<rect x="717" y="567" width="1" height="23" fill="#c0c0c0"/>
<rect x="721" y="567" width="1" height="16" fill="#c0c0c0"/>
<rect x="725" y="567" width="1" height="11" fill="#c0c0c0"/>
<rect x="729" y="567" width="1" height="6" fill="#c0c0c0"/>
<rect x="733" y="567" width="1" height="8" fill="#c0c0c0"/>
<rect x="737" y="567" width="1" height="8" fill="#c0c0c0"/>
<rect x="741" y="567" width="1" height="6" fill="#c0c0c0"/>
<rect x="745" y="567" width="1" height="1" fill="#c0c0c0"/>
<rect x="753" y="565" width="1" height="2" fill="#c0c0c0"/>
<rect x="757" y="563" width="1" height="4" fill="#c0c0c0"/>
<rect x="761" y="557" width="1" height="10" fill="#c0c0c0"/>
<rect x="765" y="552" width="1" height="15" fill="#c0c0c0"/>
<rect x="769" y="546" width="1" height="21" fill="#c0c0c0"/>
<rect x="773" y="543" width="1" height="24" fill="#c0c0c0"/>
<rect x="777" y="541" width="1" height="26" fill="#c0c0c0"/>
<rect x="781" y="538" width="1" height="29" fill="#c0c0c0"/>
<rect x="785" y="535" width="1" height="32" fill="#c0c0c0"/>
<rect x="789" y="531" width="1" height="36" fill="#c0c0c0"/>
<rect x="793" y="528" width="1" height="39" fill="#c0c0c0"/>
<rect x="797" y="526" width="1" height="41" fill="#c0c0c0"/>
<rect x="801" y="525" width="1" height="42" fill="#c0c0c0"/>
<rect x="805" y="527" width="1" height="40" fill="#c0c0c0"/>
<rect x="809" y="531" width="1" height="36" fill="#c0c0c0"/>
<rect x="813" y="536" width="1" height="31" fill="#c0c0c0"/>
<rect x="817" y="542" width="1" height="25" fill="#c0c0c0"/>
<rect x="821" y="548" width="1" height="19" fill="#c0c0c0"/>
<rect x="825" y="551" width="1" height="16" fill="#c0c0c0"/>
<rect x="829" y="555" width="1" height="12" fill="#c0c0c0"/>
<rect x="833" y="556" width="1" height="11" fill="#c0c0c0"/>
<rect x="837" y="557" width="1" height="10" fill="#c0c0c0"/>
<rect x="841" y="558" width="1" height="9" fill="#c0c0c0"/>
<rect x="845" y="559" width="1" height="8" fill="#c0c0c0"/>
<rect x="849" y="559" width="1" height="8" fill="#c0c0c0"/>
<rect x="853" y="558" width="1" height="9" fill="#c0c0c0"/>
<rect x="857" y="557" width="1" height="10" fill="#c0c0c0"/>
<rect x="861" y="558" width="1" height="9" fill="#c0c0c0"/>
<rect x="865" y="558" width="1" height="9" fill="#c0c0c0"/>
<rect x="869" y="558" width="1" height="9" fill="#c0c0c0"/>
<rect x="873" y="558" width="1" height="9" fill="#c0c0c0"/>
<rect x="877" y="563" width="1" height="4" fill="#c0c0c0"/>
<rect x="881" y="567" width="1" height="1" fill="#c0c0c0"/>
<rect x="885" y="567" width="1" height="6" fill="#c0c0c0"/>
<rect x="889" y="567" width="1" height="11" fill="#c0c0c0"/>
<rect x="893" y="567" width="1" height="14" fill="#c0c0c0"/>
<rect x="897" y="567" width="1" height="15" fill="#c0c0c0"/>
<rect x="901" y="567" width="1" height="13" fill="#c0c0c0"/>
<rect x="905" y="567" width="1" height="14" fill="#c0c0c0"/>
<rect x="909" y="567" width="1" height="15" fill="#c0c0c0"/>
<rect x="913" y="567" width="1" height="17" fill="#c0c0c0"/>
<rect x="917" y="567" width="1" height="18" fill="#c0c0c0"/>
<rect x="921" y="567" width="1" height="19" fill="#c0c0c0"/>
<rect x="925" y="567" width="1" height="20" fill="#c0c0c0"/>
<rect x="929" y="567" width="1" height="23" fill="#c0c0c0"/>
<rect x="933" y="567" width="1" height="26" fill="#c0c0c0"/>
<rect x="937" y="567" width="1" height="28" fill="#c0c0c0"/>
<rect x="941" y="567" width="1" height="29" fill="#c0c0c0"/>
<rect x="945" y="567" width="1" height="29" fill="#c0c0c0"/>
<rect x="949" y="567" width="1" height="29" fill="#c0c0c0"/>
<rect x="953" y="567" width="1" height="30" fill="#c0c0c0"/>
<rect x="957" y="567" width="1" height="31" fill="#c0c0c0"/>
<rect x="961" y="567" width="1" height="22" fill="#c0c0c0"/>
<rect x="965" y="567" width="1" height="14" fill="#c0c0c0"/>
<rect x="969" y="567" width="1" height="7" fill="#c0c0c0"/>
<rect x="973" y="567" width="1" height="5" fill="#c0c0c0"/>
<rect x="981" y="563" width="1" height="4" fill="#c0c0c0"/>
<rect x="985" y="560" width="1" height="7" fill="#c0c0c0"/>
<rect x="989" y="557" width="1" height="10" fill="#c0c0c0"/>
<polyline points="5.0,612.6 37.6,612.1 45.1,607.6 53.8,602.1 61.3,599.1 70.1,596.6 77.6,595.9 85.1,595.4 97.6,595.1 107.7,591.6 115.2,588.4 122.7,584.1 130.2,576.6 139.0,568.3 147.7,560.8 155.2,554.1 162.7,548.3 167.8,547.3 187.8,547.3 192.8,549.0 212.8,549.5 226.6,550.3 235.4,554.6 247.9,562.6 257.9,570.8 267.9,580.8 277.9,589.6 282.9,591.6 292.9,594.1 300.5,591.6 308.0,589.6 315.5,586.6 320.0,586.6 330.0,585.9 337.5,587.6 347.5,587.6 357.6,589.6 367.6,594.1 377.6,598.4 387.6,603.4 397.6,605.1 413.9,605.1 422.7,600.9 432.7,595.9 442.7,591.6 452.7,588.6 462.7,588.6 470.2,589.6 477.7,590.1 485.2,592.6 495.3,591.6 502.8,588.4 512.8,581.6 522.8,571.6 530.3,565.8 540.3,561.6 547.8,560.8 555.4,560.8 565.4,560.1 580.4,559.1 590.4,555.1 600.4,550.8 610.4,547.5 623.0,547.5 630.5,553.3 638.0,560.8 647.5,572.1 657.5,585.1 667.5,595.9 677.6,605.9 687.6,614.1 693.8,617.7 698.8,618.4 707.6,615.1 715.1,609.6 725.1,598.4 735.1,588.4 745.2,579.6 755.2,570.8 765.2,564.6 775.2,555.8 785.2,547.0 795.2,538.3 802.7,532.5 809.0,530.3 815.3,530.8 826.5,534.5 835.3,542.0 844.1,549.5 852.8,555.1 860.3,557.1 872.8,557.6 882.9,559.6 890.4,563.3 897.9,569.6 905.0,574.6 910.0,577.9 916.7,580.7 923.4,582.9 930.0,584.6 935.9,585.9 941.7,589.1 948.4,590.7 953.4,593.4 958.4,594.6 965.1,593.4 971.7,590.1 977.6,586.2 983.4,580.4 988.4,574.6" fill="none" stroke="#ff0000" stroke-width="1" stroke-dasharray="3,3"/>
</g>
<rect x="4.5" y="30.5" width="1245" height="485" fill="none" stroke="#000"/>
<rect x="4.5" y="518.5" width="1245" height="110" fill="none" stroke="#000"/>
<g id="lines" shape-rendering="auto">
<line x1="799" y1="207.6" x2="1062.8" y2="472.3" stroke="#ff0000" stroke-width="2.2"/>
<rect x="857" y="274" width="321" height="2" fill="#ff0000"/>
<rect x="830" y="351" width="335" height="2" fill="#00ff00"/>
<rect x="948" y="441" width="221" height="2" fill="#0000ff"/>
</g>
<g id="axis" shape-rendering="auto">
<rect x="1250" y="51" width="2" height="1" fill="#000"/>
<text x="1255" y="54.7" class="ax">1.16230</text>
<rect x="1250" y="84" width="2" height="1" fill="#000"/>
<text x="1255" y="87.7" class="ax">1.15935</text>
<rect x="1250" y="117" width="2" height="1" fill="#000"/>
<text x="1255" y="120.7" class="ax">1.15635</text>
<rect x="1250" y="150" width="2" height="1" fill="#000"/>
<text x="1255" y="153.7" class="ax">1.15340</text>
<rect x="1250" y="183" width="2" height="1" fill="#000"/>
<text x="1255" y="186.7" class="ax">1.15040</text>
<rect x="1250" y="216" width="2" height="1" fill="#000"/>
<text x="1255" y="219.7" class="ax">1.14740</text>
<rect x="1250" y="249" width="2" height="1" fill="#000"/>
<text x="1255" y="252.7" class="ax">1.14445</text>
<rect x="1250" y="282" width="2" height="1" fill="#000"/>
<text x="1255" y="285.7" class="ax">1.14145</text>
<rect x="1250" y="315" width="2" height="1" fill="#000"/>
<text x="1255" y="318.7" class="ax">1.13850</text>
<rect x="1250" y="348" width="2" height="1" fill="#000"/>
<text x="1255" y="351.7" class="ax">1.13550</text>
<rect x="1250" y="381" width="2" height="1" fill="#000"/>
<text x="1255" y="384.7" class="ax">1.13250</text>
<rect x="1250" y="414" width="2" height="1" fill="#000"/>
<text x="1255" y="417.7" class="ax">1.12955</text>
<rect x="1250" y="447" width="2" height="1" fill="#000"/>
<text x="1255" y="450.7" class="ax">1.12655</text>
<rect x="1250" y="480" width="2" height="1" fill="#000"/>
<text x="1255" y="483.7" class="ax">1.12360</text>
<rect x="1250" y="513" width="2" height="1" fill="#000"/>
<text x="1255" y="516.7" class="ax">1.12060</text>
<rect x="1250" y="518" width="2" height="1" fill="#000"/>
<text x="1253.3" y="529.7" class="ax">0.003847</text>
<rect x="1250" y="567" width="2" height="1" fill="#000"/>
<text x="1253.3" y="570.7" class="ax">0.00</text>
<rect x="1250" y="628" width="2" height="1" fill="#000"/>
<text x="1253.3" y="625.7" class="ax">-0.004856</text>
<rect x="5" y="628" width="1" height="4" fill="#000"/>
<text x="4" y="641" class="tx">4 Oct 2018</text>
<rect x="69" y="628" width="1" height="4" fill="#000"/>
<text x="68" y="641" class="tx">8 Oct 23:00</text>
<rect x="133" y="628" width="1" height="4" fill="#000"/>
<text x="132" y="641" class="tx">11 Oct 14:00</text>
<rect x="197" y="628" width="1" height="4" fill="#000"/>
<text x="196" y="641" class="tx">16 Oct 04:00</text>
<rect x="261" y="628" width="1" height="4" fill="#000"/>
<text x="260" y="641" class="tx">18 Oct 22:00</text>
<rect x="325" y="628" width="1" height="4" fill="#000"/>
<text x="324" y="641" class="tx">23 Oct 14:00</text>
<rect x="389" y="628" width="1" height="4" fill="#000"/>
<text x="388" y="641" class="tx">26 Oct 04:00</text>
<rect x="453" y="628" width="1" height="4" fill="#000"/>
<text x="452" y="641" class="tx">30 Oct 22:00</text>
<rect x="517" y="628" width="1" height="4" fill="#000"/>
<text x="516" y="641" class="tx">2 Nov 14:00</text>
<rect x="581" y="628" width="1" height="4" fill="#000"/>
<text x="580" y="641" class="tx">7 Nov 04:00</text>
<rect x="645" y="628" width="1" height="4" fill="#000"/>
<text x="644" y="641" class="tx">9 Nov 23:00</text>
<rect x="709" y="628" width="1" height="4" fill="#000"/>
<text x="708" y="641" class="tx">14 Nov 15:00</text>
<rect x="773" y="628" width="1" height="4" fill="#000"/>
<text x="772" y="641" class="tx">19 Nov 07:00</text>
<rect x="837" y="628" width="1" height="4" fill="#000"/>
<text x="836" y="641" class="tx">21 Nov 23:00</text>
<rect x="901" y="628" width="1" height="4" fill="#000"/>
<text x="900" y="641" class="tx">26 Nov 15:00</text>
<rect x="965" y="628" width="1" height="4" fill="#000"/>
<text x="964" y="641" class="tx">29 Nov 04:00</text>
<rect x="1251" y="304" width="41" height="10" fill="#000"/>
<text x="1255" y="311.8" class="ax" style="fill:#fff">1.13918</text><rect x="1249" y="308" width="2" height="1" fill="#fff"/>
<polygon points="7.8,41.3 11.5,36.8 15.2,41.3" fill="#000"/>
</g>
</svg>
<div class="abs title">EURUSD,H4</div><div class="abs title" style="left:80.5px;letter-spacing:-0.22px">1.13882 1.13955 1.13809 1.13918</div>
<div class="abs" id="macdt">MACD(12,26,9) 0.000942 -0.000470</div>
<div class="cn" style="left:1107px;top:249.6px;color:#ff0000;-webkit-text-stroke:0.5px #ff0000">压制</div>
<div class="cn" style="left:1087.5px;top:331.3px;letter-spacing:0.25px;color:#00ff00;-webkit-text-stroke:0.5px #00ff00">多空转折点</div>
<div class="cn" style="left:1181px;top:431.6px;color:#0000ff;-webkit-text-stroke:0.5px #0000ff">支撑</div>
<!-- trade panel -->
<div class="pn" style="left:8px;top:50px;width:52px;height:24px;background:linear-gradient(#fc5252,#e33333);box-sizing:border-box;border:1px solid #c40808;border-bottom:none"></div>
<div class="pn" style="left:8px;top:74px;width:109px;height:40px;background:linear-gradient(#da2a2a,#ae0000);box-sizing:border-box;border:1px solid #b40404;border-top-color:#c81010"></div>
<div class="pn" style="left:175px;top:50px;width:52px;height:24px;background:linear-gradient(#fc5252,#e33333);box-sizing:border-box;border:1px solid #c40808;border-bottom:none"></div>
<div class="pn" style="left:119px;top:74px;width:108px;height:40px;background:linear-gradient(#da2a2a,#ae0000);box-sizing:border-box;border:1px solid #b40404;border-top-color:#c81010"></div>
<div class="pn" style="left:9px;top:74px;width:50px;height:1px;background:#dc2c2c"></div>
<div class="pn" style="left:176px;top:74px;width:50px;height:1px;background:#dc2c2c"></div>
<div class="pn" style="left:12px;top:73px;width:44px;height:1px;background:#8c0000"></div><div class="pn" style="left:12px;top:74px;width:44px;height:1px;background:#f46a6a"></div>
<div class="pn" style="left:179px;top:73px;width:44px;height:1px;background:#8c0000"></div><div class="pn" style="left:179px;top:74px;width:44px;height:1px;background:#f46a6a"></div>
<div class="pn" style="left:62px;top:50px;width:111px;height:22px;background:#fff;border:1px solid #a8a8b4;box-sizing:border-box"></div>
<div class="pn" style="left:63px;top:51px;width:20px;height:20px;background:linear-gradient(#efefef 0%,#e6e6e6 45%,#d2d2d2 50%,#c8c8c8 100%);border:1px solid #d8d8d8;border-right-color:#a8a8b4;box-sizing:border-box"></div>
<div class="pn" style="left:151px;top:51px;width:21px;height:20px;background:linear-gradient(#efefef 0%,#e6e6e6 45%,#d2d2d2 50%,#c8c8c8 100%);border:1px solid #d8d8d8;border-left-color:#a8a8b4;box-sizing:border-box"></div>
<svg class="abs" style="left:60px;top:50px" width="115" height="24"><polygon points="10,10 15.4,10 12.7,13" fill="#5060c0"/><polygon points="99,13 104.4,13 101.7,10" fill="#5060c0"/></svg>
<div class="abs" style="left:125px;top:54px;font-size:12px;line-height:14px;color:#000">1.00</div>
<div class="btxt" style="left:20px;top:55.5px">SELL</div>
<div class="btxt" style="left:188.5px;top:55.5px;letter-spacing:0.2px">BUY</div>
<div class="sm" style="left:28px;top:95px">1.13</div><div class="big" style="left:54.5px;top:75.3px">91</div><div class="sup" style="left:95px;top:79px">8</div>
<div class="sm" style="left:138px;top:95px">1.13</div><div class="big" style="left:165px;top:75.3px">93</div><div class="sup" style="left:206px;top:79px">8</div>
<!-- tabs -->
<div class="abs" id="tabs"></div>
<svg class="abs" style="left:0;top:650px" width="1294" height="27" shape-rendering="crispEdges">
<rect x="0" y="1" width="1294" height="1" fill="#000"/>
<rect x="6" y="0" width="92" height="20" fill="#fff"/>
<rect x="6" y="0" width="1" height="20" fill="#000"/><rect x="97" y="1" width="1" height="19" fill="#000"/><rect x="6" y="19" width="92" height="1" fill="#000"/>
<rect x="0" y="0" width="1" height="22" fill="#a0a0a0"/><rect x="1" y="0" width="1" height="22" fill="#696969"/>
<rect x="0" y="0" width="1294" height="1" fill="#fff"/><rect x="0" y="20" width="1294" height="2" fill="#f8f8f8"/><rect x="0" y="22" width="1294" height="3" fill="#f2f2f2"/><rect x="0" y="25" width="1292" height="1" fill="#b0b0b0"/><rect x="1292" y="2" width="1" height="18" fill="#f8f8f8"/>
<polygon points="1261.6,10 1265.3,6.7 1265.3,13.3" fill="#8c8c8c" shape-rendering="auto"/><polygon points="1284.4,10 1280.7,6.7 1280.7,13.3" fill="#8c8c8c" shape-rendering="auto"/>
</svg>
<div class="tab" style="left:18px;color:#000">EURUSD,H4</div>
<div class="tab" style="left:108px">USDCHF,H4</div><div class="sep" style="left:186px"></div>
<div class="tab" style="left:197px">USDCAD,H4</div><div class="sep" style="left:278px"></div>
<div class="tab" style="left:289px">AUDUSD,Daily</div><div class="sep" style="left:382px"></div>
<div class="tab" style="left:392px">USDCNH,H4</div><div class="sep" style="left:474px"></div>
</body></html>
